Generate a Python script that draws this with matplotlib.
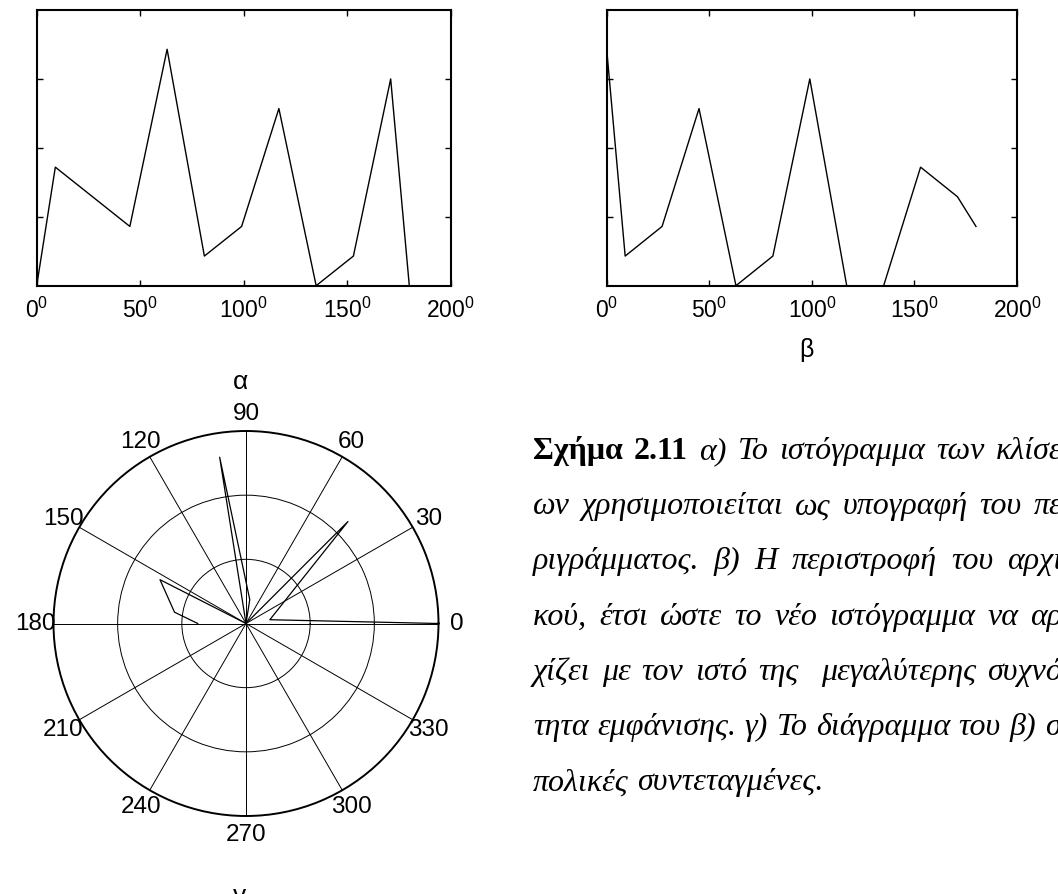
import matplotlib
matplotlib.use("Agg")
import matplotlib.pyplot as plt
import numpy as np

plt.rcParams['font.family'] = ['Liberation Sans', 'DejaVu Sans']
plt.rcParams['mathtext.default'] = 'regular'

# histogram of the slopes (a) and the rotated one (b)
angles = [0, 9, 27, 45, 63, 81, 99, 117, 135, 153, 171, 180]
hist_a = [0, 1.72, 1.29, 0.86, 3.43, 0.43, 0.86, 2.57, 0, 0.43, 3.0, 0]
hist_b = [3.43, 0.43, 0.86, 2.57, 0, 0.43, 3.0, 0, 0, 1.72, 1.29, 0.86]

# polar version (c)
polar_deg = [0, 9, 45, 63, 81, 99, 117, 135, 153, 171, 180]
polar_r = [3.43, 0.43, 2.57, 0, 0.43, 3.0, 0, 0, 1.72, 1.29, 0.86]
r_max = 3.43

xticks = [0, 50, 100, 150, 200]
xticklabels = [r'$%d^0$' % v for v in xticks]
theta_ticks = list(range(0, 360, 30))

caption_bold = 'Σχήμα 2.11'
caption_lines = [
    'α) Το ιστόγραμμα των κλίσε-',
    'ων χρησιμοποιείται ως υπογραφή του πε-',
    'ριγράμματος. β) Η περιστροφή του αρχι-',
    'κού, έτσι ώστε το νέο ιστόγραμμα να αρ-',
    'χίζει με τον ιστό της  μεγαλύτερης συχνό-',
    'τητα εμφάνισης. γ) Το διάγραμμα του β) σε',
    'πολικές συντεταγμένες.',
]

W, H = 1058, 895
fig = plt.figure(figsize=(W / 100, H / 100), dpi=100)


def box(x0, y0, x1, y1):
    # pixel box -> figure fraction
    return [x0 / W, 1 - y1 / H, (x1 - x0) / W, (y1 - y0) / H]


def histo(ax, y):
    ax.plot(angles, y, color='k', lw=1.0)
    ax.set_xlim(0, 200)
    ax.set_ylim(0, 4)
    ax.set_xticks(xticks)
    ax.set_xticklabels(xticklabels, fontsize=16.5)
    ax.set_yticks([1, 2, 3])
    ax.set_yticklabels([])
    ax.tick_params(direction='in', length=4, width=1.0, top=True, right=True, pad=8)
    for s in ax.spines.values():
        s.set_linewidth(1.5)


ax1 = fig.add_axes(box(36.7, 11, 450.7, 286.7))
histo(ax1, hist_a)
ax2 = fig.add_axes(box(606.7, 11, 1017, 286.7))
histo(ax2, hist_b)

ax3 = fig.add_axes(box(53.5, 432, 438.5, 817), projection='polar')
ax3.plot(np.radians(polar_deg), polar_r, color='k', lw=0.9)
ax3.set_rlim(0, r_max)
ax3.set_rgrids([r_max / 3, 2 * r_max / 3], labels=['', ''])
ax3.set_thetagrids(theta_ticks, labels=['' for t in theta_ticks])
ax3.grid(True, color='k', lw=0.7, ls='-')
ax3.spines['polar'].set_linewidth(1.4)
for t in theta_ticks:
    ax3.text(np.radians(t), r_max * 1.095, str(t), fontsize=17.5,
             ha='center', va='center', clip_on=False)

fig.text(240 / W, 1 - 382 / H, 'α', fontsize=19, ha='center', va='center')
fig.text(806 / W, 1 - 350 / H, 'β', fontsize=18, ha='center', va='center')
fig.text(240 / W, 1 - 884 / H, 'γ', fontsize=19, ha='center', va='top')

# caption, justified between cap_x and cap_right (the right part is cut by the page)
cap_x = 533
cap_right = 1073
base0 = 459
step = 55.2
fs = 23
renderer = fig.canvas.get_renderer()


def word_width(word, weight):
    t = fig.text(0, 0, word, family='Liberation Serif', weight=weight,
                 style='normal' if weight == 'bold' else 'italic', fontsize=fs)
    w = t.get_window_extent(renderer).width if word else 0
    t.remove()
    return w


for i, line in enumerate(caption_lines):
    words = [(w, 'normal') for w in line.split(' ')]
    if i == 0:
        words = [(w, 'bold') for w in caption_bold.split(' ')] + words
    widths = [word_width(w, wt) for w, wt in words]
    gap = (cap_right - cap_x - sum(widths)) / (len(words) - 1)
    if i == len(caption_lines) - 1:
        gap = word_width('a a', 'normal') - 2 * word_width('a', 'normal')
    x = cap_x
    y = 1 - (base0 + i * step) / H
    for (w, wt), wd in zip(words, widths):
        if w:
            fig.text(x / W, y, w, family='Liberation Serif', weight=wt,
                     style='normal' if wt == 'bold' else 'italic',
                     fontsize=fs, va='baseline')
        x += wd + gap

fig.savefig('out.png', dpi=100)
